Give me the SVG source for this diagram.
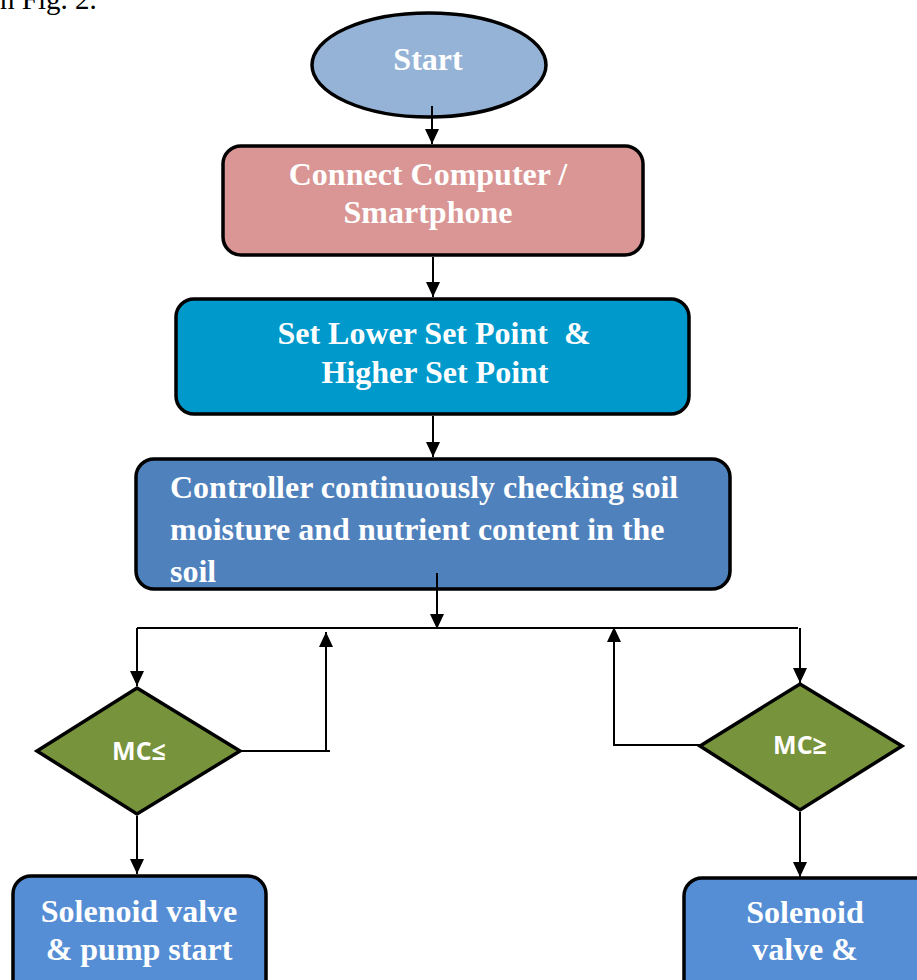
<svg xmlns="http://www.w3.org/2000/svg" width="917" height="980" viewBox="0 0 917 980">
<style>
.box{stroke:#000;stroke-width:3.5}
.t{font-family:"Liberation Serif","Times New Roman",serif;font-weight:bold;font-size:32px;fill:#fff}
.c{text-anchor:middle}
.mc{font-family:"Open Sans","Liberation Sans",sans-serif;font-weight:bold;font-size:25px;fill:#fff;text-anchor:middle}
.ln{stroke:#000;stroke-width:2;fill:none}
.cap{font-family:"Liberation Serif","Times New Roman",serif;font-size:29px;fill:#000}
</style>
<defs>
<marker id="ah" markerUnits="userSpaceOnUse" markerWidth="15" markerHeight="14" refX="15" refY="7" orient="auto">
<path d="M0,0 L15,7 L0,14 z" fill="#000"/>
</marker>
</defs>
<rect width="917" height="980" fill="#fff"/>
<text class="cap" x="-8" y="9">in Fig. 2.</text>

<g id="start">
<ellipse cx="429" cy="65" rx="117" ry="52" fill="#95B3D7" class="box"/>
<text class="t c" x="428" y="70">Start</text>
</g>
<g id="connect">
<rect x="223" y="146" width="420" height="109" rx="18" fill="#D99694" class="box"/>
<text class="t c" x="428" y="185">Connect Computer /</text>
<text class="t c" x="428" y="223">Smartphone</text>
</g>
<g id="setpoint">
<rect x="176" y="299" width="513" height="115" rx="18" fill="#0099CC" class="box"/>
<text class="t c" x="434" y="344" xml:space="preserve">Set Lower Set Point  &amp;</text>
<text class="t c" x="435" y="383">Higher Set Point</text>
</g>
<g id="controller">
<rect x="136" y="459" width="594" height="130" rx="18" fill="#4F81BD" class="box"/>
<text class="t" x="170" y="498">Controller continuously checking soil</text>
<text class="t" x="170" y="540">moisture and nutrient content in the</text>
<text class="t" x="170" y="582">soil</text>
</g>
<g id="mcle">
<polygon points="137,688 240,751 137,814 37,751" fill="#77933C" class="box"/>
<text class="mc" x="139" y="760">MC≤</text>
</g>
<g id="mcge">
<polygon points="800,684 902,746 800,810 700,746" fill="#77933C" class="box"/>
<text class="mc" x="800" y="754">MC≥</text>
</g>
<g id="valve-left">
<rect x="13" y="876" width="253" height="130" rx="18" fill="#558ED5" class="box"/>
<text class="t c" x="139" y="922">Solenoid valve</text>
<text class="t c" x="139" y="960">&amp; pump start</text>
</g>
<g id="valve-right">
<rect x="684" y="878" width="262" height="130" rx="18" fill="#558ED5" class="box"/>
<text class="t c" x="805" y="923">Solenoid</text>
<text class="t c" x="805" y="960">valve &amp;</text>
</g>

<g id="connectors">
<line class="ln" x1="432" y1="106" x2="432" y2="144" marker-end="url(#ah)"/>
<line class="ln" x1="433" y1="257" x2="433" y2="297" marker-end="url(#ah)"/>
<line class="ln" x1="433" y1="416" x2="433" y2="457" marker-end="url(#ah)"/>
<line class="ln" x1="437" y1="573" x2="437" y2="629" marker-end="url(#ah)"/>
<line class="ln" x1="137" y1="628" x2="798" y2="628"/>
<line class="ln" x1="137" y1="628" x2="137" y2="686" marker-end="url(#ah)"/>
<line class="ln" x1="800" y1="628" x2="800" y2="683" marker-end="url(#ah)"/>
<line class="ln" x1="240" y1="751" x2="330" y2="751"/>
<line class="ln" x1="326" y1="751" x2="326" y2="632" marker-end="url(#ah)"/>
<line class="ln" x1="700" y1="745" x2="613" y2="745"/>
<line class="ln" x1="614" y1="745" x2="614" y2="627" marker-end="url(#ah)"/>
<line class="ln" x1="137" y1="816" x2="137" y2="874" marker-end="url(#ah)"/>
<line class="ln" x1="800" y1="812" x2="800" y2="877" marker-end="url(#ah)"/>
</g>
</svg>
